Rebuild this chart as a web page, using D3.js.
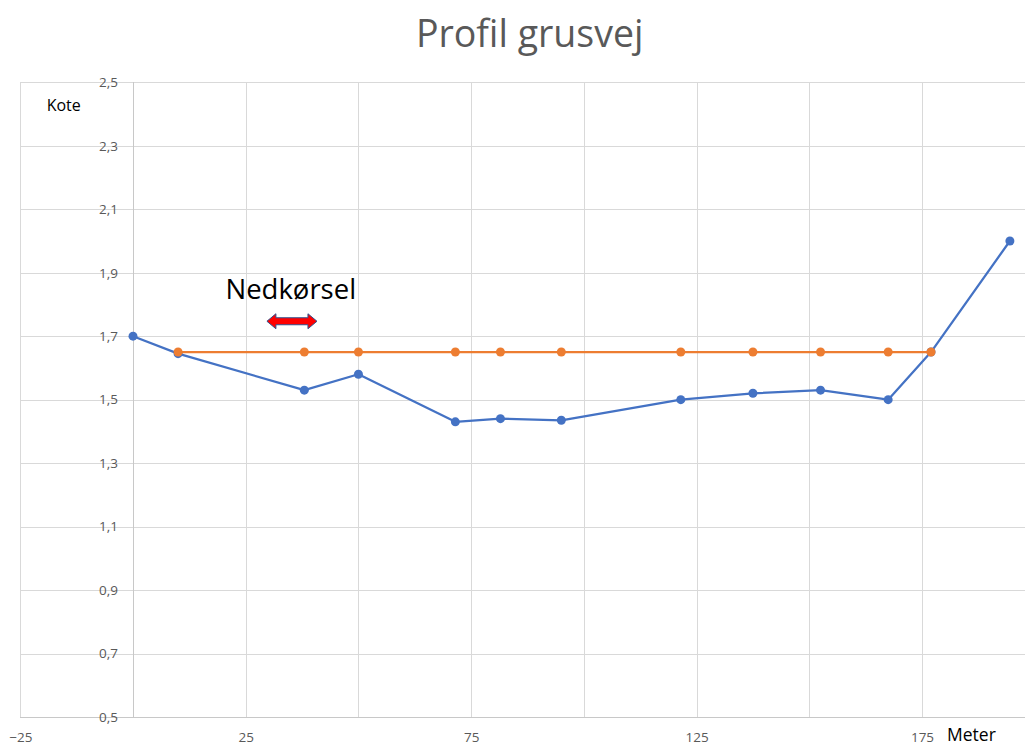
<html lang='en'>
<head>
    <meta content='text/html; charset=utf-8' http-equiv='Content-Type'>
    <title>Profil grusvej</title>
    <script src="https://d3js.org/d3.v7.min.js"></script>
    <style>
        body { margin: 0; background: #fff; font-family: "Open Sans", sans-serif; }
        .grid line { stroke: #d9d9d9; stroke-width: 1px; shape-rendering: crispEdges; }
        .axis path { display: none; }
        .axis line { display: none; }
        .axis text { fill: #595959; font-size: 13.5px; font-family: "Open Sans", sans-serif; }
        .line { fill: none; stroke-width: 2.25px; stroke-linejoin: round; }
    </style>
</head>
<body>
<script>
// meter along the road
var blueX = [0, 10, 38, 50, 71.5, 81.5, 95, 121.5, 137.5, 152.5, 167.5, 177, 194.5];
// kote (existing level)
var blueY = [1.70, 1.645, 1.53, 1.58, 1.43, 1.44, 1.435, 1.50, 1.52, 1.53, 1.50, 1.65, 2.00];
// planned level
var orangeX = [10, 38, 50, 71.5, 81.5, 95, 121.5, 137.5, 152.5, 167.5, 177];
var orangeY = [1.65, 1.65, 1.65, 1.65, 1.65, 1.65, 1.65, 1.65, 1.65, 1.65, 1.65];

var xGrid = [-25, 0, 25, 50, 75, 100, 125, 150, 175, 200];
var xLabels = [-25, 25, 75, 125, 175];
var yTicks = [0.5, 0.7, 0.9, 1.1, 1.3, 1.5, 1.7, 1.9, 2.1, 2.3, 2.5];

var width = 1025, height = 747;

var x = d3.scaleLinear().domain([-25, 200]).range([20.3, 1034.7]);
var y = d3.scaleLinear().domain([0.5, 2.5]).range([717, 82.3]);

var fmt = d3.formatLocale({decimal: ",", thousands: ".", grouping: [3], currency: ["", " kr"]}).format(".1f");

var svg = d3.select("body").append("svg")
    .attr("width", width)
    .attr("height", height);

svg.append("rect").attr("width", width).attr("height", height).attr("fill", "#fff");

// gridlines
var grid = svg.append("g").attr("class", "grid");
grid.selectAll(".hx").data(yTicks).enter().append("line")
    .attr("x1", x(-25)).attr("x2", x(200))
    .attr("y1", function(d) { return Math.round(y(d)) + 0.5; })
    .attr("y2", function(d) { return Math.round(y(d)) + 0.5; });
grid.selectAll(".vx").data(xGrid).enter().append("line")
    .attr("x1", function(d) { return Math.round(x(d)) + 0.5; })
    .attr("x2", function(d) { return Math.round(x(d)) + 0.5; })
    .attr("y1", y(2.5)).attr("y2", y(0.5));

// axis lines (slightly darker)
svg.append("line")
    .attr("x1", x(-25)).attr("x2", x(200))
    .attr("y1", Math.round(y(0.5)) + 0.5).attr("y2", Math.round(y(0.5)) + 0.5)
    .attr("stroke", "#c8c8c8").attr("shape-rendering", "crispEdges");
svg.append("line")
    .attr("x1", Math.round(x(0)) + 0.5).attr("x2", Math.round(x(0)) + 0.5)
    .attr("y1", y(2.5)).attr("y2", y(0.5))
    .attr("stroke", "#c8c8c8").attr("shape-rendering", "crispEdges");

// tick labels
svg.append("g")
    .attr("class", "axis axis--y")
    .attr("transform", "translate(" + x(0) + ",0)")
    .call(d3.axisLeft(y).tickValues(yTicks).tickFormat(fmt).tickSize(0).tickPadding(15));

svg.append("g")
    .attr("class", "axis axis--x")
    .attr("transform", "translate(0," + y(0.5) + ")")
    .call(d3.axisBottom(x).tickValues(xLabels).tickFormat(d3.format("d")).tickSize(0).tickPadding(15));

// titles
svg.append("text")
    .attr("x", 529.7).attr("y", 47)
    .attr("text-anchor", "middle")
    .attr("fill", "#595959")
    .style("font-size", "37.5px")
    .text("Profil grusvej");

svg.append("text")
    .attr("x", 46.7).attr("y", 110.7)
    .attr("fill", "#000")
    .style("font-size", "16px")
    .text("Kote");

svg.append("text")
    .attr("x", 947).attr("y", 741)
    .attr("fill", "#000")
    .style("font-size", "17.5px")
    .text("Meter");

// series
var blue = blueX.map(function(d, i) { return {x: d, y: blueY[i]}; });
var orange = orangeX.map(function(d, i) { return {x: d, y: orangeY[i]}; });

var line = d3.line()
    .x(function(d) { return x(d.x); })
    .y(function(d) { return y(d.y); });

function drawSeries(data, color) {
    svg.append("path").datum(data)
        .attr("class", "line")
        .attr("stroke", color)
        .attr("d", line);
    svg.append("g").selectAll("circle").data(data).enter().append("circle")
        .attr("cx", function(d) { return x(d.x); })
        .attr("cy", function(d) { return y(d.y); })
        .attr("r", 4.5)
        .attr("fill", color);
}
drawSeries(blue, "#4472C4");
drawSeries(orange, "#ED7D31");

// annotation: Nedkørsel with double arrow
svg.append("text")
    .attr("x", x(20.5)).attr("y", y(1.818))
    .attr("fill", "#000")
    .style("font-size", "27.5px")
    .text("Nedkørsel");

var ax1 = x(29.7), ax2 = x(40.8), ay = y(1.747);
var hl = 9, hh = 7.5, sh = 3.5;
var arrow = d3.path();
arrow.moveTo(ax1, ay);
arrow.lineTo(ax1 + hl, ay - hh);
arrow.lineTo(ax1 + hl, ay - sh);
arrow.lineTo(ax2 - hl, ay - sh);
arrow.lineTo(ax2 - hl, ay - hh);
arrow.lineTo(ax2, ay);
arrow.lineTo(ax2 - hl, ay + hh);
arrow.lineTo(ax2 - hl, ay + sh);
arrow.lineTo(ax1 + hl, ay + sh);
arrow.lineTo(ax1 + hl, ay + hh);
arrow.closePath();
svg.append("path")
    .attr("d", arrow.toString())
    .attr("fill", "#ff0000")
    .attr("stroke", "#2F528F")
    .attr("stroke-width", 1);
</script>
</body>
</html>
